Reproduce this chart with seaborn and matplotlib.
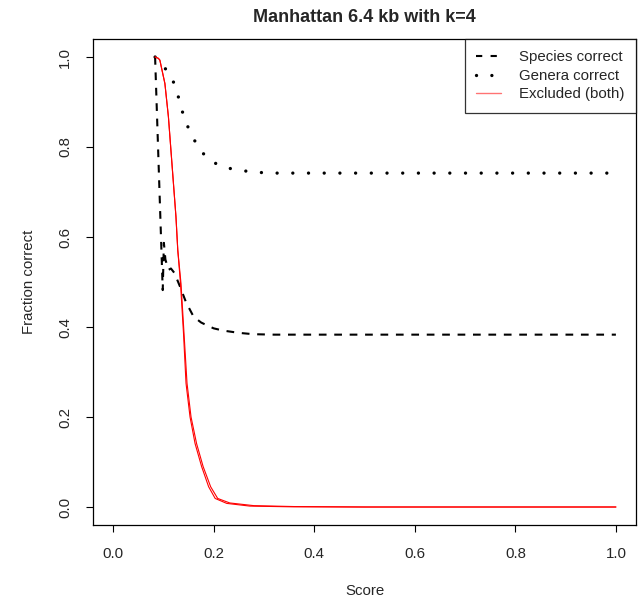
import matplotlib
matplotlib.use("Agg")
import matplotlib.pyplot as plt
from matplotlib.lines import Line2D
import seaborn as sns
import pandas as pd

sns.set_style("white")
plt.rcParams["font.family"] = ["Liberation Sans", "DejaVu Sans"]

# Fraction of species assigned correctly vs. score threshold
species_x = [0.0835, 0.0987, 0.101, 0.104, 0.11, 0.115, 0.122, 0.133, 0.145, 0.16,
             0.175, 0.186, 0.2, 0.219, 0.25, 0.279, 0.32, 0.4, 0.5, 0.6, 0.7, 0.8, 0.9, 1.0]
species_y = [1.0, 0.482, 0.587, 0.55, 0.527, 0.53, 0.52, 0.49, 0.455, 0.423,
             0.41, 0.404, 0.397, 0.392, 0.387, 0.384, 0.383, 0.383, 0.383, 0.383,
             0.383, 0.383, 0.383, 0.383]

# Fraction of genera assigned correctly vs. score threshold
genera_x = [0.0835, 0.0987, 0.115, 0.1266, 0.134, 0.143, 0.156, 0.171, 0.191, 0.219,
            0.249, 0.279, 0.32, 0.4, 0.5, 0.6, 0.7, 0.8, 0.9, 1.0]
genera_y = [1.0, 0.981, 0.959, 0.925, 0.893, 0.859, 0.827, 0.796, 0.771, 0.755,
            0.749, 0.744, 0.742, 0.742, 0.742, 0.742, 0.742, 0.742, 0.742, 0.742]

# Fraction of reads excluded (species and genera runs)
excl_x = [0.0835, 0.09, 0.093, 0.103, 0.11, 0.115, 0.12, 0.125, 0.1286, 0.134,
          0.14, 0.145, 0.153, 0.163, 0.176, 0.19, 0.203, 0.226, 0.272, 0.35,
          0.5, 0.7, 1.0]
excl_species_y = [1.0, 0.997, 0.993, 0.941, 0.867, 0.793, 0.719, 0.645, 0.571, 0.497,
                  0.386, 0.275, 0.2, 0.141, 0.09, 0.045, 0.019, 0.008, 0.002, 0.0005,
                  0.0, 0.0, 0.0]
excl_genera_x = [0.0835, 0.09, 0.093, 0.103, 0.11, 0.115, 0.12, 0.125, 0.1286, 0.135,
                 0.141, 0.147, 0.155, 0.166, 0.179, 0.194, 0.208, 0.232, 0.28, 0.36,
                 0.5, 0.7, 1.0]
excl_genera_y = [1.0, 0.997, 0.993, 0.941, 0.867, 0.793, 0.719, 0.645, 0.571, 0.497,
                 0.386, 0.275, 0.2, 0.141, 0.09, 0.045, 0.019, 0.009, 0.003, 0.001,
                 0.0, 0.0, 0.0]

ticks = [0.0, 0.2, 0.4, 0.6, 0.8, 1.0]
tick_labels = ["0.0", "0.2", "0.4", "0.6", "0.8", "1.0"]
series_labels = ["Species correct", "Genera correct", "Excluded (both)"]

FS = 10.8

fig = plt.figure(figsize=(6.4, 6.0), dpi=100)
ax = fig.add_axes([93 / 640, 75 / 600, 543 / 640, 486 / 600])

sp = pd.DataFrame({"x": species_x, "y": species_y})
ge = pd.DataFrame({"x": genera_x, "y": genera_y})
es = pd.DataFrame({"x": excl_x, "y": excl_species_y})
eg = pd.DataFrame({"x": excl_genera_x, "y": excl_genera_y})

sns.lineplot(data=sp, x="x", y="y", ax=ax, color="black", lw=1.5,
             estimator=None, sort=False)
ax.lines[-1].set_dashes([3.7, 3.7])
sns.lineplot(data=ge, x="x", y="y", ax=ax, color="black", lw=2.4,
             estimator=None, sort=False)
ax.lines[-1].set_dashes([0.01, 4.7])
ax.lines[-1].set_dash_capstyle("round")
sns.lineplot(data=es, x="x", y="y", ax=ax, color="#ff0000", lw=0.8,
             estimator=None, sort=False)
sns.lineplot(data=eg, x="x", y="y", ax=ax, color="#ff0000", lw=0.8,
             estimator=None, sort=False)

ax.set_xlim(-0.04, 1.04)
ax.set_ylim(-0.04, 1.04)
ax.set_xticks(ticks)
ax.set_xticklabels(tick_labels, fontsize=FS)
ax.set_yticks(ticks)
ax.set_yticklabels(tick_labels, fontsize=FS, rotation=90, va="center")
ax.tick_params(direction="out", length=5, width=0.8, color="black",
               bottom=True, left=True)
ax.tick_params(axis="x", pad=11)
ax.tick_params(axis="y", pad=10)

for s in ax.spines.values():
    s.set_visible(True)
    s.set_color("black")
    s.set_linewidth(0.9)

ax.set_xlabel("Score", fontsize=FS)
ax.set_ylabel("Fraction correct", fontsize=FS)
ax.xaxis.set_label_coords(0.5, -66 / 486)
ax.yaxis.set_label_coords(-64 / 543, 0.5)
ax.xaxis.label.set_va("center")
ax.yaxis.label.set_va("center")
ax.set_title("Manhattan 6.4 kb with k=4", fontsize=13, fontweight="bold", pad=12)

h_species = Line2D([], [], color="black", lw=1.5, dashes=[3.0, 4.0])
h_genera = Line2D([], [], color="black", lw=2.4, dashes=[0.01, 4.6],
                  dash_capstyle="round")
h_excl = Line2D([], [], color="#ff0000", lw=1.0, alpha=0.55)
leg = ax.legend([h_species, h_genera, h_excl], series_labels,
                loc="upper right", bbox_to_anchor=(1.0, 1.0), fontsize=FS,
                frameon=True, fancybox=False, edgecolor="black",
                borderaxespad=0.0, handlelength=1.7, labelspacing=0.3,
                handletextpad=1.2, borderpad=0.75)
leg.get_frame().set_linewidth(0.9)

fig.savefig("out.png", dpi=100)
